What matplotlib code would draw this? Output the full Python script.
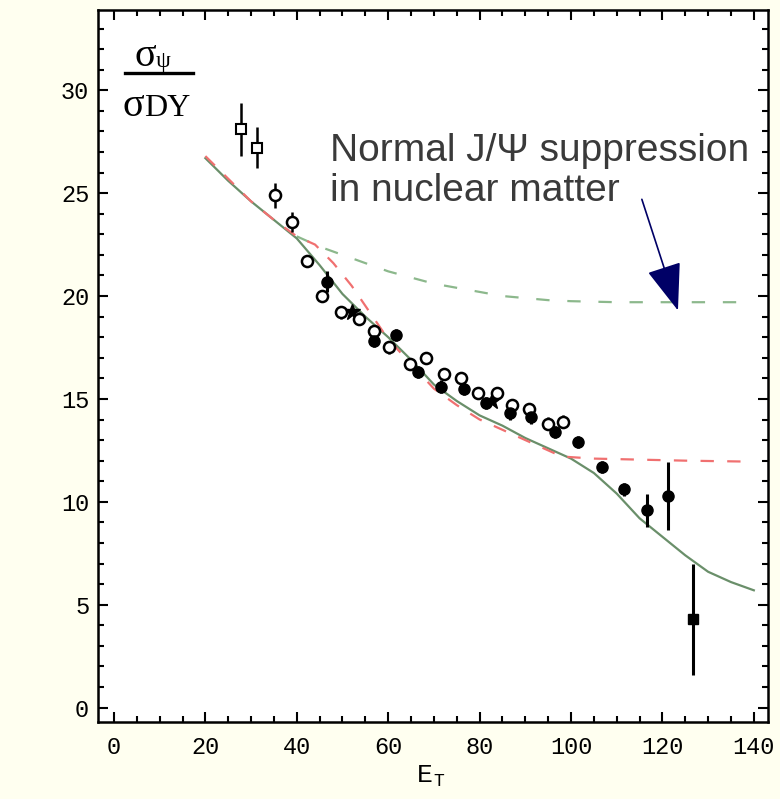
import matplotlib
matplotlib.use("Agg")
import matplotlib.pyplot as plt
from matplotlib.lines import Line2D
from matplotlib.ticker import MultipleLocator

# data
sq_x = [27.7, 31.2]
sq_y = [28.1, 27.2]
sq_err = [1.3, 1.0]

open_x = [35.2, 38.9, 42.3, 45.5, 49.7, 53.6, 57.0, 60.2, 64.8, 68.3, 72.2,
          75.9, 79.7, 83.7, 87.0, 90.7, 94.9, 98.3]
open_y = [24.9, 23.6, 21.7, 20.0, 19.2, 18.9, 18.3, 17.5, 16.7, 17.0, 16.2,
          16.0, 15.3, 15.3, 14.7, 14.5, 13.8, 13.9]
open_err = [0.6, 0.5, 0.3, 0.3, 0.3, 0.3, 0.3, 0.3, 0.3, 0.3, 0.3,
            0.3, 0.3, 0.3, 0.3, 0.3, 0.3, 0.3]

fill_x = [46.7, 57.0, 61.7, 66.5, 71.6, 76.5, 81.4, 86.6, 91.3, 96.6, 101.6,
          106.7, 111.7, 116.6, 121.2]
fill_y = [20.7, 17.8, 18.1, 16.3, 15.6, 15.5, 14.8, 14.3, 14.1, 13.4, 12.9,
          11.7, 10.6, 9.6, 10.3]
fill_err = [0.5, 0.3, 0.3, 0.3, 0.3, 0.3, 0.3, 0.3, 0.3, 0.3, 0.3,
            0.3, 0.3, 0.8, 1.65]

star_x = [52.0, 82.8]
star_y = [19.2, 14.9]

last_x = [126.7]
last_y = [4.3]
last_err = [2.7]

solid_x = [20, 25, 30, 35, 40, 45, 50, 55, 60, 65, 70, 75, 80, 85, 90, 95,
           100, 105, 110, 115, 120, 125, 130, 135, 140]
solid_y = [26.7, 25.6, 24.6, 23.7, 22.8, 21.5, 20.1, 19.0, 18.0, 16.9, 15.7,
           14.9, 14.2, 13.7, 13.1, 12.6, 12.1, 11.4, 10.4, 9.2, 8.3, 7.4, 6.6,
           6.1, 5.7]

red_x = [20, 25, 30, 35, 40, 44, 48, 52, 56, 60, 65, 70, 75, 80, 85, 90, 95,
         98, 105, 115, 125, 140]
red_y = [26.8, 25.7, 24.6, 23.7, 22.9, 22.5, 21.6, 20.5, 19.2, 17.9, 16.7,
         15.5, 14.7, 14.0, 13.5, 13.0, 12.5, 12.2, 12.1, 12.05, 12.0, 11.95]

norm_x = [40, 45, 50, 55, 60, 65, 70, 75, 80, 85, 90, 95, 100, 110, 120,
          130, 140]
norm_y = [22.9, 22.4, 22.0, 21.6, 21.2, 20.9, 20.6, 20.4, 20.2, 20.0, 19.9,
          19.8, 19.75, 19.7, 19.7, 19.7, 19.7]

fig = plt.figure(figsize=(7.8, 7.99), dpi=100, facecolor='#fffff0')
ax = fig.add_axes([97.5/780, 1-722/799, (768-97.5)/780, (722-10)/799])
ax.set_facecolor('white')

# theory curves
ax.plot(norm_x, norm_y, color='#8cb88c', lw=1.6, dashes=(6, 8))
ax.plot(solid_x, solid_y, color='#6a8f6a', lw=1.6)
ax.plot(red_x, red_y, color='#f07070', lw=1.6, dashes=(6, 6))

# data
ax.errorbar(sq_x, sq_y, yerr=sq_err, fmt='s', ms=6.5, mfc='white', mec='black',
            mew=1.5, ecolor='black', elinewidth=1.8, capsize=0)
ax.errorbar(open_x, open_y, yerr=open_err, fmt='o', ms=8, mfc='white',
            mec='black', mew=1.8, ecolor='black', elinewidth=1.8, capsize=0)
ax.errorbar(fill_x, fill_y, yerr=fill_err, fmt='o', ms=8, mfc='black',
            mec='black', ecolor='black', elinewidth=2.2, capsize=0)
ax.plot(star_x, star_y, '*', ms=12, color='black')
ax.errorbar(last_x, last_y, yerr=last_err, fmt='s', ms=7.5, mfc='black',
            mec='black', ecolor='black', elinewidth=2.2, capsize=0)

ax.set_xlim(-3.6, 143.1)
ax.set_ylim(-0.7, 33.9)
ax.xaxis.set_major_locator(MultipleLocator(20))
ax.xaxis.set_minor_locator(MultipleLocator(5))
ax.yaxis.set_major_locator(MultipleLocator(5))
ax.yaxis.set_minor_locator(MultipleLocator(1))
ax.tick_params(which='both', direction='in', top=True, right=True,
               width=1.5, colors='black')
ax.tick_params(which='major', length=7, labelsize=17)
ax.tick_params(which='minor', length=4)
ax.tick_params(axis='x', pad=10)
ax.tick_params(axis='y', pad=6)
for lab in ax.get_xticklabels() + ax.get_yticklabels():
    lab.set_family('Liberation Mono')
for sp in ax.spines.values():
    sp.set_linewidth(1.8)

# annotation
ax.text(47.3, 27.9, 'Normal J/\u03a8 suppression\nin nuclear matter',
        family='Liberation Sans', fontsize=28, color='#3a3a3a',
        va='top', ha='left', linespacing=1.12)
ax.annotate('', xy=(123.4, 19.3), xytext=(115.5, 24.7),
            arrowprops=dict(arrowstyle='-|>,head_length=1.5,head_width=0.55',
                            color='#000066', lw=1.2, mutation_scale=20,
                            shrinkA=0, shrinkB=0))

# y label as fraction
fig.text(135/780, 1-56/799, '\u03c3', family='Liberation Serif', fontsize=29,
         va='center', ha='left')
fig.text(156/780, 1-62/799, '\u03c8', family='Liberation Serif', fontsize=17,
         va='center', ha='left')
fig.add_artist(Line2D([125/780, 193/780], [1-73/799, 1-73/799], color='black',
                      lw=2.4, transform=fig.transFigure))
fig.text(123/780, 1-106/799, '\u03c3', family='Liberation Serif', fontsize=29,
         va='center', ha='left')
fig.text(144/780, 1-109/799, 'DY', family='Liberation Serif', fontsize=23,
         va='center', ha='left')

# x label
fig.text(433/780, 1-775/799, 'E', family='Liberation Mono', fontsize=19,
         va='center', ha='right')
fig.text(433/780, 1-781/799, 'T', family='Liberation Mono', fontsize=13,
         va='center', ha='left')

fig.savefig('out.png', dpi=100, facecolor=fig.get_facecolor())
